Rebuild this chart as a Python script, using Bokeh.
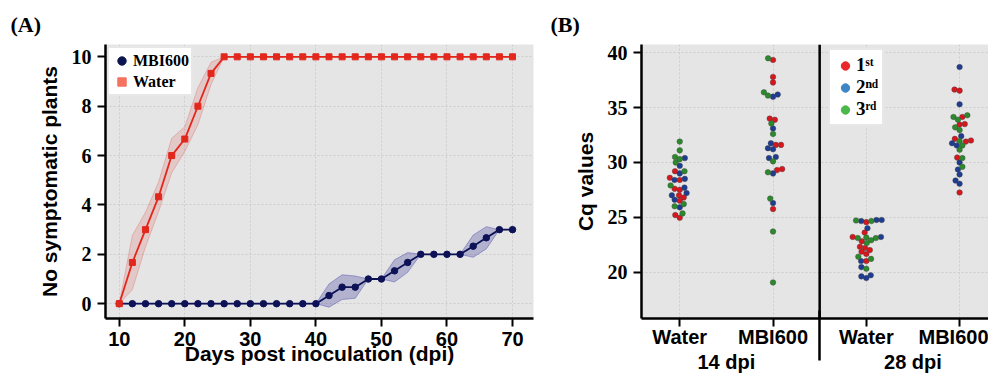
import math
from bokeh.plotting import figure
from bokeh.layouts import row
from bokeh.models import (Range1d, FixedTicker, Legend, LegendItem, Span, LinearAxis,
                          ColumnDataSource, Title)
from bokeh.embed import file_html
from bokeh.resources import INLINE

# ---------------- Panel A data ----------------
days = [10, 12, 14, 16, 18, 20, 22, 24, 26, 28, 30, 32, 34, 36, 38, 40,
        42, 44, 46, 48, 50, 52, 54, 56, 58, 60, 62, 64, 66, 68, 70]
water_mean = [0, 1.67, 3.0, 4.33, 6.0, 6.67, 8.0, 9.33, 10, 10, 10, 10, 10, 10, 10, 10,
              10, 10, 10, 10, 10, 10, 10, 10, 10, 10, 10, 10, 10, 10, 10]
water_err = [0, 1.1, 0.7, 0.6, 0.7, 0.5, 0.75, 0.45, 0, 0, 0, 0, 0, 0, 0, 0,
             0, 0, 0, 0, 0, 0, 0, 0, 0, 0, 0, 0, 0, 0, 0]
mbi_mean = [0, 0, 0, 0, 0, 0, 0, 0, 0, 0, 0, 0, 0, 0, 0, 0,
            0.33, 0.67, 0.67, 1.0, 1.0, 1.33, 1.67, 2.0, 2.0, 2.0, 2.0, 2.33, 2.67, 3.0, 3.0]
mbi_err = [0, 0, 0, 0, 0, 0, 0, 0, 0, 0, 0, 0, 0, 0, 0, 0,
           0.47, 0.5, 0.45, 0, 0, 0.45, 0.4, 0, 0, 0, 0, 0.45, 0.45, 0, 0]
a_xticks = [10, 20, 30, 40, 50, 60, 70]
a_yticks = [0, 2, 4, 6, 8, 10]

# ---------------- Panel B data ----------------
categories = ["Water", "MBI600", "Water", "MBI600"]
dpi_groups = ["14 dpi", "28 dpi"]
replicates = ["1ˢᵗ", "2ⁿᵈ", "3ʳᵈ"]
b_yticks = [20, 25, 30, 35, 40]

water14_r1 = [29.2, 28.6, 28.4, 27.5, 27.6, 27.0, 26.8, 26.5, 25.2, 24.95]
water14_r2 = [30.4, 29.7, 29.0, 28.4, 28.5, 27.7, 27.2, 27.0, 26.6, 25.9]
water14_r3 = [31.9, 31.1, 30.5, 30.3, 30.0, 29.2, 27.9, 26.2, 26.0, 25.35]
mbi14_r1 = [39.35, 37.8, 37.3, 34.0, 33.9, 31.6, 31.6, 29.4, 29.3, 25.75]
mbi14_r2 = [36.2, 36.0, 33.1, 31.75, 31.3, 31.2, 30.5, 30.4, 29.0, 26.3]
mbi14_r3 = [39.5, 36.4, 36.1, 33.55, 32.6, 30.1, 29.1, 26.7, 23.7, 19.05]
water28_r1 = [24.55, 23.6, 23.2, 22.8, 22.3, 22.2, 22.0, 21.85, 21.65, 21.0]
water28_r2 = [24.75, 24.65, 24.75, 24.0, 23.2, 21.0, 20.45, 19.7, 19.6, 19.45]
water28_r3 = [24.65, 24.7, 23.15, 23.1, 23.1, 22.9, 22.65, 21.4, 21.2, 20.3]
mbi28_r1 = [36.65, 36.55, 34.15, 33.5, 33.45, 32.15, 32.0, 31.9, 30.45, 27.25]
mbi28_r2 = [38.7, 35.3, 32.4, 31.75, 31.55, 30.0, 29.35, 28.9, 28.35, 28.05]
mbi28_r3 = [34.3, 34.15, 33.9, 33.2, 32.95, 31.95, 31.55, 31.15, 30.4, 29.6]

groups = [
    [water14_r1, water14_r2, water14_r3],
    [mbi14_r1, mbi14_r2, mbi14_r3],
    [water28_r1, water28_r2, water28_r3],
    [mbi28_r1, mbi28_r2, mbi28_r3],
]

# ---------------- styles ----------------
BG = "#e5e5e5"
GRID = "#cdcdcd"
SANS = "Liberation Sans"
SERIF = "Liberation Serif"
WATER_C = "#e2271d"
MBI_C = "#0d1257"
rep_colors = ["#d8161c", "#1d3c92", "#2b8a2b"]
rep_legend_colors = ["#e8282b", "#3d85c6", "#4cb74a"]
NAN = float("nan")

H = 375
A_W, A_BL, A_BR = 545, 105, 12
B_W, B_BL, B_BR = 443, 96, 0
BT, BB = 44, 57
FRAME_H = H - BT - BB


def style_axes(p):
    for ax in p.axis:
        ax.axis_line_width = 2.5
        ax.axis_line_color = "black"
        ax.major_tick_line_width = 2
        ax.major_tick_line_color = "black"
        ax.major_tick_out = 8
        ax.major_tick_in = 0
        ax.minor_tick_line_color = None
        ax.minor_tick_out = 0
        ax.minor_tick_in = 0
        ax.axis_label_text_font = SANS
        ax.axis_label_text_font_style = "bold"
        ax.axis_label_text_font_size = "21px"
        ax.axis_label_text_color = "black"
        ax.major_label_text_color = "black"
    p.xaxis.major_label_text_font = SANS
    p.xaxis.major_label_text_font_style = "bold"
    p.xaxis.major_label_text_font_size = "20px"
    p.yaxis.major_label_text_font = SERIF
    p.yaxis.major_label_text_font_style = "bold"
    p.yaxis.major_label_text_font_size = "20px"
    p.yaxis.major_label_standoff = 6
    p.yaxis.axis_label_standoff = 8
    p.grid.grid_line_color = GRID
    p.grid.grid_line_dash = "2 2"
    p.grid.grid_line_width = 1


def panel_title(text, offset):
    return Title(text=text, align="left", offset=offset, vertical_align="bottom", standoff=16,
                 text_font=SERIF, text_font_style="bold", text_font_size="22px",
                 text_color="black")


# ================= Panel A =================
p1 = figure(width=A_W, height=H, x_range=Range1d(7.9, 73.2), y_range=Range1d(-0.6, 10.5),
            output_backend="svg", toolbar_location=None,
            min_border_left=A_BL, min_border_right=A_BR, min_border_top=BT, min_border_bottom=BB,
            background_fill_color=BG, outline_line_color=None, border_fill_color="white")
p1.title = panel_title("(A)", -95)
p1.xaxis.ticker = FixedTicker(ticks=a_xticks)
p1.yaxis.ticker = FixedTicker(ticks=a_yticks)
p1.xaxis.axis_label = "Days post inoculation (dpi)"
p1.yaxis.axis_label = "No symptomatic plants"
style_axes(p1)
p1.xaxis.major_label_standoff = 5
p1.xaxis.axis_label_standoff = -7

w_lo = [m - e for m, e in zip(water_mean, water_err)]
w_hi = [m + e for m, e in zip(water_mean, water_err)]
m_lo = [m - e for m, e in zip(mbi_mean, mbi_err)]
m_hi = [m + e for m, e in zip(mbi_mean, mbi_err)]

p1.varea(x=days, y1=m_lo, y2=m_hi, fill_color="#3b3b9a", fill_alpha=0.3)
p1.line(days, m_lo, line_color="#4b4bb0", line_alpha=0.45, line_width=1)
p1.line(days, m_hi, line_color="#4b4bb0", line_alpha=0.45, line_width=1)
p1.varea(x=days, y1=w_lo, y2=w_hi, fill_color="#d9534f", fill_alpha=0.2)
p1.line(days, w_lo, line_color="#d9534f", line_alpha=0.3, line_width=1)
p1.line(days, w_hi, line_color="#d9534f", line_alpha=0.3, line_width=1)

p1.line(days, mbi_mean, line_color=MBI_C, line_width=1.8)
p1.scatter(days, mbi_mean, marker="circle", size=6.5, fill_color=MBI_C, line_color=MBI_C)
p1.line(days, water_mean, line_color=WATER_C, line_width=1.8)
p1.scatter(days, water_mean, marker="square", size=6, fill_color=WATER_C, line_color=WATER_C)

leg_m = p1.scatter(x=[NAN], y=[NAN], marker="circle", fill_color="#0b1650", line_color="#0b1650")
leg_w = p1.scatter(x=[NAN], y=[NAN], marker="square", fill_color="#f5725e", line_color="#f5725e")
legA = Legend(items=[LegendItem(label="MBI600", renderers=[leg_m]),
                     LegendItem(label="Water", renderers=[leg_w])],
              location="top_left", margin=2, padding=2, spacing=-1,
              label_text_font=SERIF, label_text_font_style="bold", label_text_font_size="16px",
              label_text_color="black",
              label_height=20, glyph_width=21, glyph_height=21, label_standoff=1,
              border_line_color="#cfcfcf", border_line_width=2,
              background_fill_color="white", background_fill_alpha=1)
p1.add_layout(legA)

# ================= Panel B =================
bx0, bx1 = -0.41, 3.31
by0, by1 = 15.76, 40.76
p2 = figure(width=B_W, height=H, x_range=Range1d(bx0, bx1), y_range=Range1d(by0, by1),
            output_backend="svg", toolbar_location=None,
            min_border_left=B_BL, min_border_right=B_BR, min_border_top=BT, min_border_bottom=BB,
            background_fill_color=BG, outline_line_color=None, border_fill_color="white")
p2.title = panel_title("(B)", -91)

positions = list(range(len(categories)))
n_first = len(categories) // len(dpi_groups)
sep = n_first - 0.5
p2.xaxis.ticker = FixedTicker(ticks=positions)
p2.xaxis.major_label_overrides = {pos: c for pos, c in zip(positions, categories)}
p2.yaxis.ticker = FixedTicker(ticks=b_yticks)
p2.yaxis.axis_label = "Cq values"
style_axes(p2)
p2.xaxis.major_label_standoff = -1

# separator continuing below the axis: a label-less axis whose single tick spans the gap
sep_axis = LinearAxis(ticker=FixedTicker(ticks=[sep]), major_label_overrides={sep: ""},
                      axis_line_color=None, major_tick_line_color="black", major_tick_line_width=2.5,
                      major_tick_in=40, major_tick_out=10, minor_tick_line_color=None,
                      minor_tick_in=0, minor_tick_out=0,
                      major_label_standoff=0, major_label_text_font_size="0px")
p2.add_layout(sep_axis, "below")

group_centers = []
for gi in range(len(dpi_groups)):
    gpos = positions[gi * n_first:(gi + 1) * n_first]
    group_centers.append(sum(gpos) / len(gpos))
gaxis = LinearAxis(ticker=FixedTicker(ticks=group_centers),
                   major_label_overrides={c: g for c, g in zip(group_centers, dpi_groups)},
                   axis_line_color=None, major_tick_line_color=None, minor_tick_line_color=None,
                   major_tick_out=0, major_tick_in=0, minor_tick_in=0, minor_tick_out=0,
                   major_label_standoff=-10,
                   major_label_text_font=SANS, major_label_text_font_style="bold",
                   major_label_text_font_size="20px", major_label_text_color="black")
p2.add_layout(gaxis, "below")

B_FW = B_W - B_BL - B_BR
px_x = B_FW / (bx1 - bx0)
px_y = FRAME_H / (by1 - by0)
DIAM = 5.2


def beeswarm(values):
    order = sorted(range(len(values)), key=lambda k: values[k])
    placed = []
    offs = [0.0] * len(values)
    for k in order:
        ypx = values[k] * px_y
        near = [(xo, yo) for (xo, yo) in placed if abs(yo - ypx) < DIAM]
        cands = [0.0]
        for xo, yo in near:
            dx = math.sqrt(DIAM ** 2 - (yo - ypx) ** 2)
            cands.extend([xo + dx, xo - dx])
        cands.sort(key=lambda c: (abs(c), c))
        chosen = cands[-1]
        for c in cands:
            if all((c - xo) ** 2 + (ypx - yo) ** 2 >= DIAM ** 2 - 1e-6 for xo, yo in near):
                chosen = c
                break
        placed.append((chosen, ypx))
        offs[k] = chosen / px_x
    return offs


xs, ys, cols = [], [], []
for pos, reps in zip(positions, groups):
    vals, cc = [], []
    for ri, rv in enumerate(reps):
        vals.extend(rv)
        cc.extend([rep_colors[ri]] * len(rv))
    offs = beeswarm(vals)
    xs.extend([pos + o for o in offs])
    ys.extend(vals)
    cols.extend(cc)

src = ColumnDataSource(dict(x=xs, y=ys, color=cols))
p2.add_layout(Span(location=sep, dimension="height", line_color="black", line_width=2.5))
p2.scatter(x="x", y="y", source=src, marker="circle", size=5.6, fill_color="color",
           line_color="#444444", line_width=0.6, line_alpha=0.7)

leg_items = []
for ri, lab in enumerate(replicates):
    r = p2.scatter(x=[NAN], y=[NAN], marker="circle", fill_color=rep_legend_colors[ri],
                   line_color=rep_legend_colors[ri])
    leg_items.append(LegendItem(label=lab, renderers=[r]))
LEG_B_H = 74
legB = Legend(items=leg_items, location=(187, FRAME_H - 8 - LEG_B_H), padding=4, spacing=0,
              label_text_font=SERIF, label_text_font_style="bold", label_text_font_size="19px",
              label_text_color="black",
              label_height=19, glyph_width=22, glyph_height=21, label_standoff=0,
              border_line_color="#cfcfcf", border_line_width=2,
              background_fill_color="white", background_fill_alpha=1)
p2.add_layout(legB)

layout = row(p1, p2)
open("out.html", "w").write(file_html(layout, INLINE))
